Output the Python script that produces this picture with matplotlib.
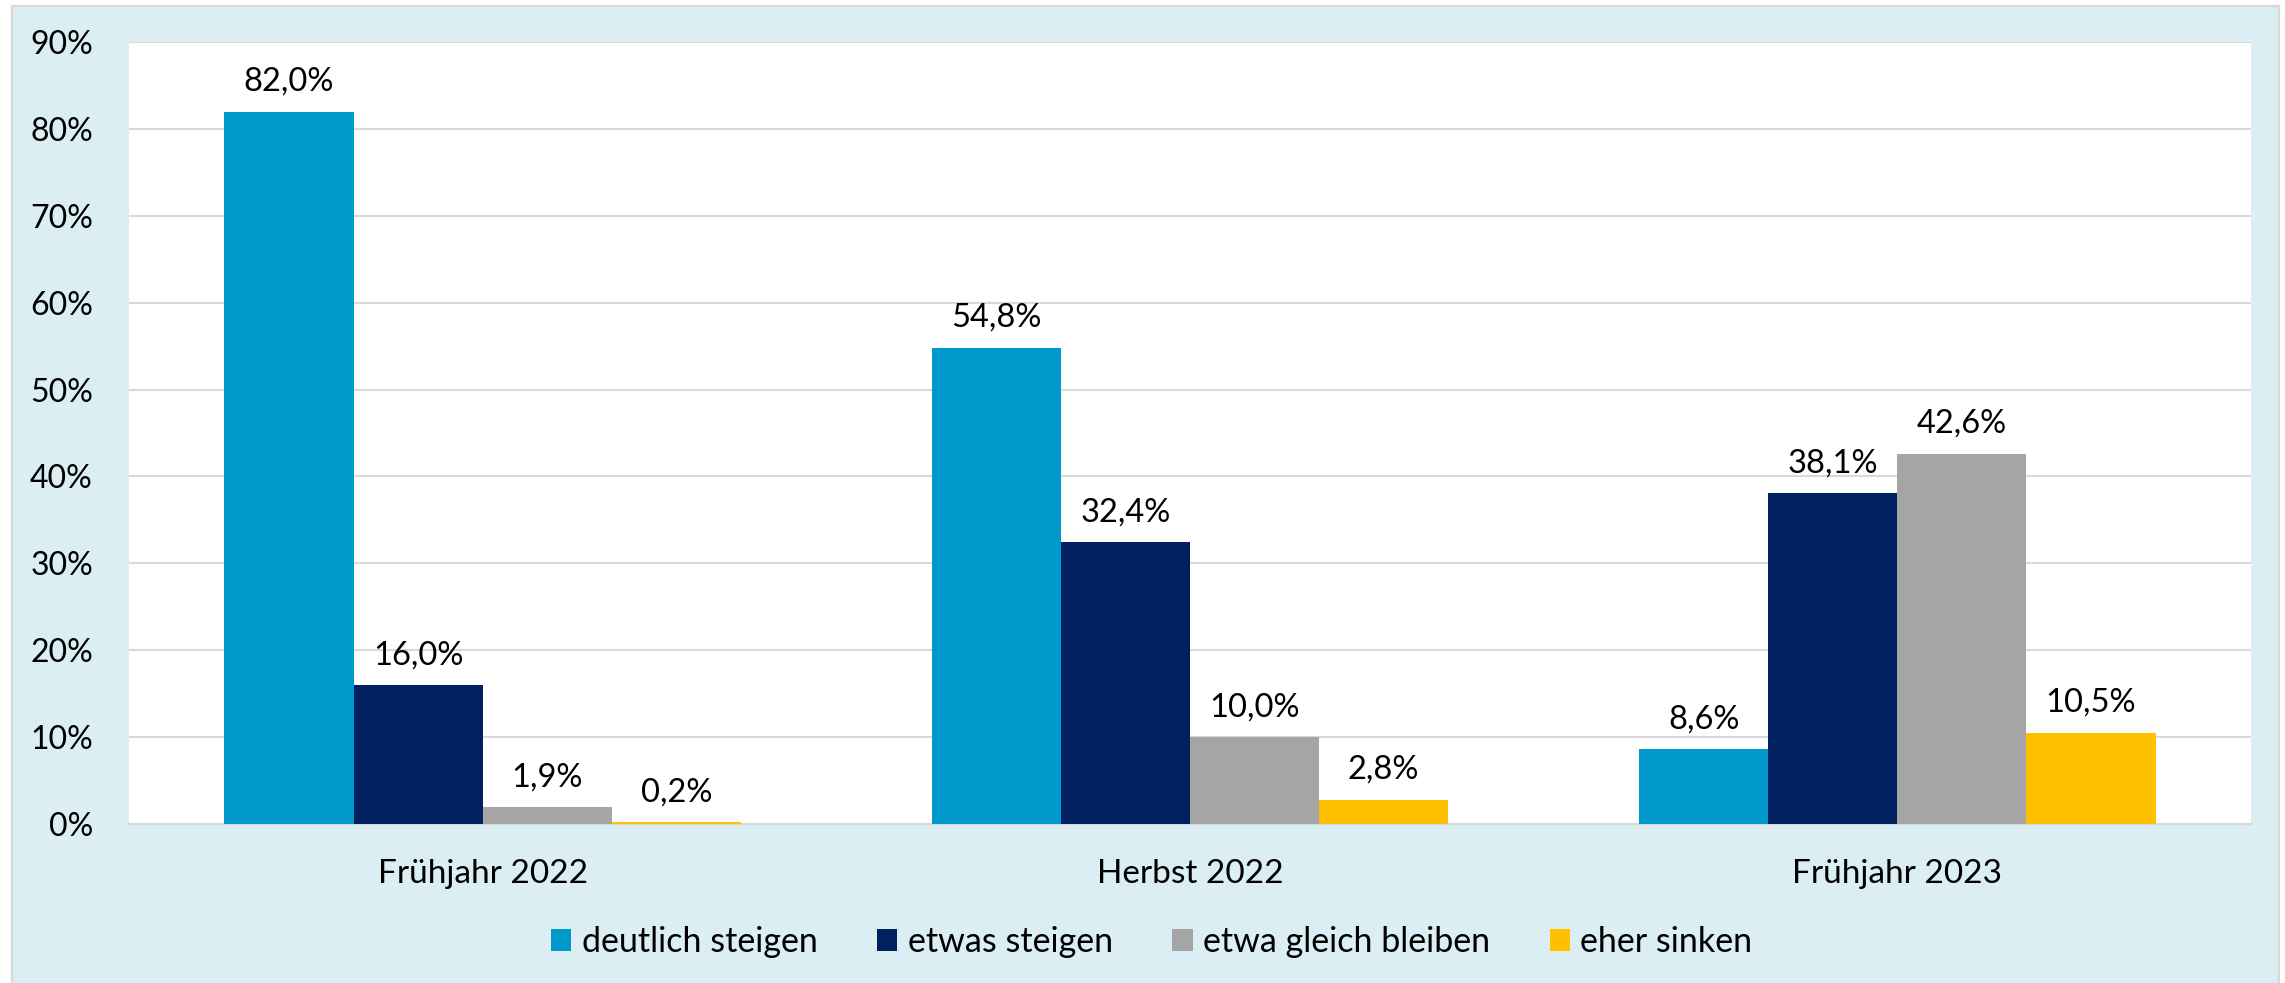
import matplotlib
matplotlib.use("Agg")
import matplotlib.pyplot as plt
from matplotlib.patches import Rectangle
import numpy as np

categories = ["Frühjahr 2022", "Herbst 2022", "Frühjahr 2023"]
series_names = ["deutlich steigen", "etwas steigen", "etwa gleich bleiben", "eher sinken"]
deutlich_steigen = [82.0, 54.8, 8.6]
etwas_steigen = [16.0, 32.4, 38.1]
etwa_gleich = [1.9, 10.0, 42.6]
eher_sinken = [0.2, 2.8, 10.5]
colors = ["#0099CC", "#002060", "#A5A5A5", "#FFC000"]
yticks = [0, 10, 20, 30, 40, 50, 60, 70, 80, 90]

series = [deutlich_steigen, etwas_steigen, etwa_gleich, eher_sinken]

plt.rcParams['font.family'] = ['Lato', 'DejaVu Sans']
W, H = 2285, 983
fig = plt.figure(figsize=(W / 100, H / 100), dpi=100)
fig.patch.set_facecolor("white")

# outer panel
fig.patches.append(Rectangle((12 / W, -0.05), (2279 - 12) / W, (983 - 6) / H + 0.05,
                             transform=fig.transFigure, facecolor="#DAEEF3",
                             edgecolor="#D9D9D9", linewidth=1.6, zorder=-10))

ax = fig.add_axes([129 / W, 159 / H, (2251 - 129) / W, (824 - 42) / H])
ax.set_zorder(5)
ax.set_facecolor("white")

x = np.arange(len(categories))
bw = 0.1825
for i, (vals, c, name) in enumerate(zip(series, colors, series_names)):
    pos = x + (i - 1.5) * bw
    bars = ax.bar(pos, vals, width=bw, color=c, label=name, zorder=3)
    for b, v in zip(bars, vals):
        ax.annotate(f"{v:.1f}%".replace(".", ","), (b.get_x() + b.get_width() / 2, v),
                    xytext=(0, 15), textcoords="offset points", ha="center",
                    va="baseline", fontsize=23.5, color="black")

ax.set_xlim(-0.5, 2.5)
ax.set_ylim(0, 90)
ax.set_yticks(yticks)
ax.set_yticklabels([f"{t}%" for t in yticks], fontsize=23)
ax.set_xticks(x)
ax.set_xticklabels(categories, fontsize=24)
ax.tick_params(axis="both", length=0)
ax.tick_params(axis="y", pad=26)
ax.tick_params(axis="x", pad=25)
ax.grid(axis="y", color="#D9D9D9", linewidth=1.5, zorder=0)
ax.set_axisbelow(True)
for s in ["top", "right", "left"]:
    ax.spines[s].set_visible(False)
ax.spines["bottom"].set_color("#D9D9D9")
ax.spines["bottom"].set_linewidth(1.5)

handles, labels = ax.get_legend_handles_labels()
fig.legend(handles, labels, loc="center", bbox_to_anchor=(0.504, 41 / H), ncol=4,
           frameon=False, fontsize=24.5, handlelength=0.6, handleheight=0.6,
           handletextpad=0.3, columnspacing=1.75)

fig.savefig("out.png", dpi=100)
